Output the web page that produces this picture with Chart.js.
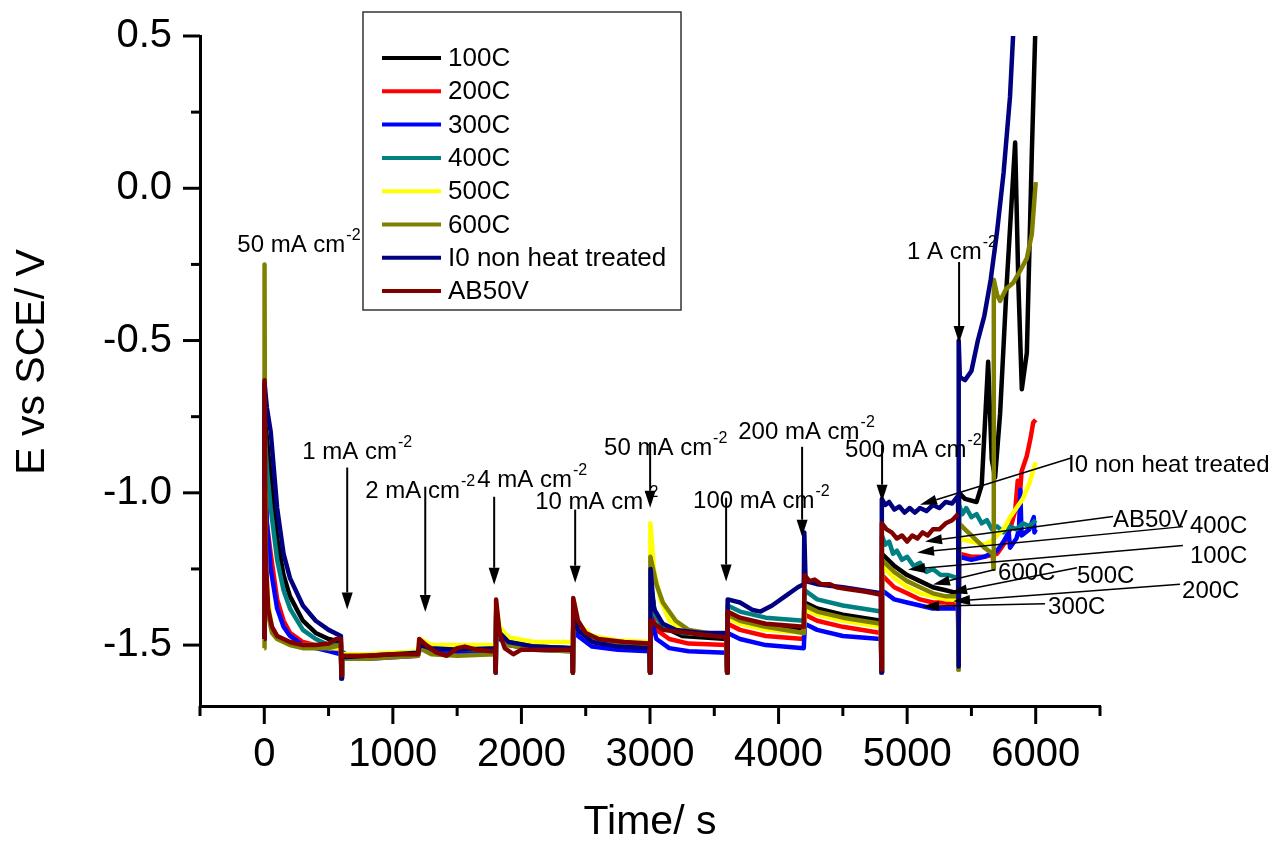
<!DOCTYPE html>
<html><head><meta charset="utf-8">
<script src="https://cdn.jsdelivr.net/npm/chart.js@4.4.0/dist/chart.umd.min.js"></script>
<style>html,body{margin:0;padding:0;background:#fff;overflow:hidden}canvas{display:block}</style>
</head><body>
<canvas id="c" width="1270" height="843"></canvas>
<script>
// ---------- DATA ----------
const seriesLabels = ['100C','200C','300C','400C','500C','600C','I0 non heat treated','AB50V'];
const seriesColors = ['#000000','#FF0000','#0000FF','#008080','#FFFF00','#808000','#000080','#800000'];

const d100C = [[0,-1.48],[2,-0.75],[20,-0.82],[50,-0.95],[100,-1.15],[150,-1.27],[200,-1.34],[300,-1.42],[400,-1.46],[500,-1.48],[596,-1.49],
 [600,-1.6],[604,-1.535],[700,-1.535],[900,-1.535],[1100,-1.53],[1196,-1.525],
 [1210,-1.495],[1300,-1.51],[1500,-1.515],[1796,-1.515],
 [1800,-1.59],[1804,-1.38],[1830,-1.46],[1900,-1.49],[2100,-1.505],[2396,-1.51],
 [2400,-1.59],[2404,-1.37],[2440,-1.44],[2550,-1.48],[2750,-1.5],[2996,-1.505],
 [3000,-1.59],[3004,-1.30],[3040,-1.40],[3100,-1.44],[3250,-1.47],[3596,-1.48],
 [3600,-1.59],[3604,-1.40],[3700,-1.42],[3900,-1.44],[4196,-1.45],
 [4204,-1.36],[4300,-1.38],[4500,-1.40],[4796,-1.42],
 [4800,-1.59],[4804,-1.20],[4900,-1.24],[5000,-1.27],[5100,-1.29],[5200,-1.31],[5300,-1.32],[5396,-1.33],
 [5400,-1.58],[5404,-1.0],[5450,-1.02],[5540,-1.03],[5580,-0.975],[5630,-0.57],[5658,-0.89],[5684,-0.95],[5723,-0.74],[5775,-0.31],[5840,0.15],[5865,-0.31],[5892,-0.66],[5931,-0.54],[5970,0.12],[5995,0.49],[6005,0.6]];

const d200C = [[0,-1.48],[2,-0.9],[20,-1.1],[50,-1.2],[100,-1.35],[150,-1.42],[200,-1.46],[300,-1.49],[400,-1.5],[500,-1.51],[596,-1.51],
 [600,-1.6],[604,-1.54],[800,-1.54],[1000,-1.535],[1196,-1.53],
 [1210,-1.5],[1300,-1.515],[1500,-1.52],[1796,-1.52],
 [1800,-1.59],[1804,-1.39],[1830,-1.47],[1900,-1.495],[2100,-1.51],[2396,-1.515],
 [2400,-1.59],[2404,-1.38],[2440,-1.45],[2550,-1.49],[2750,-1.505],[2996,-1.51],
 [3000,-1.59],[3004,-1.38],[3050,-1.45],[3150,-1.48],[3300,-1.495],[3596,-1.50],
 [3600,-1.59],[3604,-1.43],[3700,-1.45],[3900,-1.47],[4196,-1.48],
 [4204,-1.40],[4300,-1.42],[4500,-1.44],[4796,-1.46],
 [4800,-1.59],[4804,-1.27],[4900,-1.31],[5000,-1.33],[5100,-1.35],[5200,-1.36],[5300,-1.36],[5396,-1.37],
 [5400,-1.58],[5404,-1.20],[5500,-1.21],[5600,-1.21],[5700,-1.20],[5750,-1.17],[5800,-1.12],[5840,-1.06],[5860,-0.96],[5875,-1.02],[5890,-0.93],[5930,-0.88],[5960,-0.82],[5980,-0.77],[6000,-0.76]];

const d300C = [[0,-1.48],[2,-0.85],[20,-1.1],[50,-1.25],[100,-1.38],[150,-1.44],[200,-1.47],[300,-1.5],[400,-1.51],[500,-1.52],[596,-1.53],
 [600,-1.61],[604,-1.54],[800,-1.545],[1000,-1.54],[1196,-1.535],
 [1210,-1.51],[1300,-1.52],[1500,-1.525],[1796,-1.525],
 [1800,-1.59],[1804,-1.40],[1830,-1.48],[1900,-1.50],[2100,-1.515],[2396,-1.52],
 [2400,-1.59],[2404,-1.40],[2440,-1.47],[2550,-1.505],[2750,-1.515],[2996,-1.52],
 [3000,-1.59],[3004,-1.40],[3050,-1.48],[3150,-1.51],[3300,-1.52],[3596,-1.525],
 [3600,-1.59],[3604,-1.46],[3700,-1.48],[3900,-1.50],[4196,-1.51],
 [4204,-1.43],[4300,-1.45],[4500,-1.47],[4796,-1.48],
 [4800,-1.59],[4804,-1.32],[4900,-1.35],[5000,-1.36],[5100,-1.37],[5200,-1.38],[5300,-1.38],[5396,-1.38],
 [5400,-1.58],[5404,-1.21],[5500,-1.22],[5600,-1.21],[5700,-1.19],[5750,-1.16],[5790,-1.13],[5800,-1.18],[5850,-1.15],[5870,-1.12],[5880,-0.99],[5890,-1.14],[5950,-1.12],[5985,-1.08],[5990,-1.13],[6000,-1.12]];

const d400C = [[0,-1.48],[2,-0.8],[20,-0.92],[50,-1.05],[100,-1.22],[150,-1.32],[200,-1.38],[300,-1.45],[400,-1.48],[500,-1.5],[596,-1.5],
 [600,-1.6],[604,-1.535],[620,-1.525],[640,-1.535],[800,-1.535],[1000,-1.53],[1196,-1.53],
 [1210,-1.5],[1300,-1.51],[1500,-1.515],[1796,-1.515],
 [1800,-1.59],[1804,-1.39],[1830,-1.46],[1900,-1.49],[2100,-1.505],[2396,-1.51],
 [2400,-1.59],[2404,-1.37],[2440,-1.44],[2550,-1.48],[2750,-1.495],[2996,-1.50],
 [3000,-1.59],[3004,-1.30],[3040,-1.40],[3100,-1.44],[3250,-1.46],[3596,-1.47],
 [3600,-1.59],[3604,-1.37],[3700,-1.39],[3900,-1.41],[4196,-1.42],
 [4204,-1.32],[4300,-1.35],[4500,-1.37],[4796,-1.39],
 [4800,-1.59],[4804,-1.14],[4830,-1.17],[4860,-1.16],[4890,-1.20],[4920,-1.19],[4960,-1.22],[5000,-1.21],[5050,-1.24],[5100,-1.23],[5150,-1.26],[5200,-1.25],[5260,-1.27],[5320,-1.27],[5396,-1.28],
 [5400,-1.58],[5404,-1.04],[5430,-1.07],[5460,-1.05],[5500,-1.08],[5540,-1.07],[5580,-1.10],[5620,-1.09],[5660,-1.12],[5700,-1.11],[5750,-1.13],[5800,-1.11],[5850,-1.12],[5900,-1.10],[5950,-1.11],[6000,-1.09]];

const d500C = [[0,-1.48],[2,-1.0],[15,-1.25],[30,-1.35],[60,-1.45],[100,-1.48],[200,-1.5],[300,-1.5],[400,-1.5],[500,-1.51],[596,-1.51],
 [600,-1.6],[604,-1.53],[800,-1.53],[1000,-1.525],[1196,-1.52],
 [1210,-1.48],[1300,-1.5],[1500,-1.5],[1796,-1.5],
 [1800,-1.59],[1804,-1.37],[1830,-1.44],[1900,-1.475],[2100,-1.49],[2396,-1.49],
 [2400,-1.59],[2404,-1.36],[2440,-1.43],[2550,-1.47],[2750,-1.485],[2996,-1.49],
 [3000,-1.59],[3003,-1.10],[3030,-1.25],[3080,-1.35],[3150,-1.42],[3300,-1.46],[3596,-1.47],
 [3600,-1.59],[3604,-1.41],[3700,-1.43],[3900,-1.45],[4196,-1.46],
 [4204,-1.38],[4300,-1.40],[4500,-1.42],[4796,-1.44],
 [4800,-1.59],[4804,-1.24],[4900,-1.28],[5000,-1.31],[5100,-1.33],[5200,-1.34],[5300,-1.35],[5396,-1.35],
 [5400,-1.58],[5404,-1.15],[5500,-1.16],[5600,-1.17],[5650,-1.16],[5700,-1.14],[5750,-1.12],[5800,-1.08],[5850,-1.05],[5900,-1.02],[5950,-0.97],[6000,-0.90]];

const d600C = [[0,-1.51],[2,-0.25],[6,-1.0],[12,-1.25],[30,-1.4],[60,-1.46],[100,-1.48],[200,-1.5],[300,-1.51],[400,-1.51],[500,-1.51],[596,-1.5],
 [600,-1.61],[604,-1.545],[800,-1.545],[1000,-1.54],[1196,-1.535],
 [1210,-1.51],[1300,-1.53],[1500,-1.535],[1796,-1.53],
 [1800,-1.59],[1804,-1.40],[1830,-1.47],[1900,-1.50],[2100,-1.515],[2396,-1.52],
 [2400,-1.59],[2404,-1.38],[2440,-1.45],[2550,-1.49],[2750,-1.50],[2996,-1.505],
 [3000,-1.59],[3003,-1.21],[3050,-1.30],[3100,-1.36],[3200,-1.42],[3300,-1.45],[3450,-1.46],[3596,-1.47],
 [3600,-1.59],[3604,-1.40],[3700,-1.42],[3900,-1.44],[4196,-1.46],
 [4204,-1.37],[4300,-1.39],[4500,-1.41],[4796,-1.43],
 [4800,-1.59],[4804,-1.22],[4900,-1.26],[5000,-1.29],[5100,-1.31],[5200,-1.33],[5300,-1.34],[5396,-1.34],
 [5400,-1.58],[5404,-1.10],[5450,-1.12],[5500,-1.14],[5550,-1.16],[5600,-1.18],[5665,-1.20],[5672,-1.25],[5674,-0.30],[5700,-0.35],[5723,-0.37],[5770,-0.33],[5826,-0.31],[5880,-0.27],[5931,-0.23],[5970,-0.15],[6000,0.02]];

const dI0 = [[0,-1.48],[2,-0.64],[20,-0.72],[50,-0.80],[100,-1.05],[150,-1.2],[200,-1.28],[300,-1.37],[400,-1.42],[500,-1.45],[596,-1.47],
 [600,-1.61],[604,-1.54],[800,-1.535],[1000,-1.53],[1196,-1.525],
 [1210,-1.5],[1300,-1.51],[1500,-1.515],[1796,-1.51],
 [1800,-1.59],[1804,-1.39],[1830,-1.46],[1900,-1.49],[2100,-1.505],[2396,-1.51],
 [2400,-1.59],[2404,-1.38],[2440,-1.45],[2550,-1.49],[2750,-1.505],[2996,-1.51],
 [3000,-1.59],[3004,-1.25],[3030,-1.38],[3100,-1.43],[3200,-1.45],[3400,-1.46],[3596,-1.46],
 [3600,-1.59],[3604,-1.35],[3700,-1.36],[3800,-1.385],[3860,-1.39],[3950,-1.37],[4050,-1.34],[4150,-1.31],[4196,-1.30],
 [4200,-1.13],[4210,-1.29],[4300,-1.30],[4500,-1.31],[4650,-1.32],[4796,-1.33],
 [4800,-1.59],[4803,-1.02],[4830,-1.04],[4860,-1.03],[4900,-1.055],[4940,-1.045],[4980,-1.065],[5020,-1.05],[5060,-1.065],[5100,-1.05],[5150,-1.06],[5200,-1.04],[5250,-1.05],[5300,-1.03],[5350,-1.035],[5396,-1.01],
 [5400,-1.57],[5402,-0.50],[5410,-0.62],[5450,-0.63],[5500,-0.60],[5550,-0.50],[5600,-0.42],[5650,-0.30],[5700,-0.14],[5750,0.05],[5800,0.3],[5830,0.55]];

const dAB50V = [[0,-1.48],[2,-0.63],[10,-1.2],[30,-1.38],[60,-1.44],[100,-1.47],[200,-1.49],[300,-1.5],[400,-1.5],[500,-1.495],[560,-1.48],[596,-1.48],
 [600,-1.6],[604,-1.535],[800,-1.535],[1000,-1.53],[1196,-1.53],
 [1205,-1.48],[1260,-1.50],[1340,-1.525],[1420,-1.535],[1500,-1.51],[1560,-1.505],[1650,-1.515],[1760,-1.52],[1796,-1.52],
 [1800,-1.59],[1803,-1.35],[1830,-1.46],[1870,-1.51],[1937,-1.53],[2000,-1.515],[2200,-1.515],[2396,-1.515],
 [2400,-1.59],[2403,-1.345],[2440,-1.42],[2500,-1.46],[2600,-1.48],[2800,-1.49],[2996,-1.495],
 [3000,-1.59],[3003,-1.42],[3100,-1.45],[3300,-1.46],[3596,-1.475],
 [3600,-1.59],[3603,-1.39],[3700,-1.41],[3900,-1.43],[4196,-1.44],
 [4203,-1.27],[4240,-1.29],[4280,-1.285],[4330,-1.30],[4400,-1.30],[4450,-1.31],[4520,-1.315],[4600,-1.32],[4680,-1.325],[4740,-1.33],[4796,-1.335],
 [4800,-1.58],[4803,-1.10],[4840,-1.12],[4880,-1.13],[4920,-1.15],[4960,-1.14],[5000,-1.16],[5040,-1.14],[5080,-1.15],[5120,-1.13],[5160,-1.14],[5200,-1.12],[5250,-1.12],[5300,-1.10],[5350,-1.09],[5396,-1.07]];

const seriesData = [d100C, d200C, d300C, d400C, d500C, d600C, dI0, dAB50V];

const xMajorTicks = [0,1000,2000,3000,4000,5000,6000];
const xMinorTicks = [-500,500,1500,2500,3500,4500,5500,6500];
const yMajorTicks = [-1.5,-1.0,-0.5,0.0,0.5];
const yMinorTicks = [-1.25,-0.75,-0.25,0.25];

// annotations: text anchor (time, potential) and arrow (from -> tip) in data units
const annotations = [
 {text:'50 mA cm', sup:'-2', t:-210, e:-0.209},
 {text:'1 mA cm', sup:'-2', t:295, e:-0.888, arrow:[645,-0.917,645,-1.383], v:true},
 {text:'2 mA cm', sup:'-2', t:785, e:-1.016, arrow:[1252,-0.980,1252,-1.391], v:true},
 {text:'4 mA cm', sup:'-2', t:1656, e:-0.980, arrow:[1788,-1.013,1788,-1.302], v:true},
 {text:'10 mA cm', sup:'-2', t:2107, e:-1.052, arrow:[2418,-1.055,2418,-1.295], v:true},
 {text:'50 mA cm', sup:'-2', t:2643, e:-0.875, arrow:[3001,-0.835,3001,-1.049], v:true},
 {text:'100 mA cm', sup:'-2', t:3335, e:-1.049, arrow:[3592,-1.016,3592,-1.291], v:true},
 {text:'200 mA cm', sup:'-2', t:3686, e:-0.822, arrow:[4183,-0.849,4183,-1.144], v:true},
 {text:'500 mA cm', sup:'-2', t:4517, e:-0.882, arrow:[4805,-0.842,4805,-1.029], v:true},
 {text:'1 A cm', sup:'-2', t:4999, e:-0.232, arrow:[5404,-0.242,5404,-0.508], v:true},
 {text:'I0 non heat treated', t:6251, e:-0.931, arrow:[6282,-0.885,5100,-1.039]},
 {text:'AB50V', t:6601, e:-1.111, arrow:[6601,-1.078,5139,-1.160]},
 {text:'400C', t:7200, e:-1.131, arrow:[7145,-1.111,5077,-1.196]},
 {text:'100C', t:7200, e:-1.229, arrow:[7145,-1.173,5007,-1.252]},
 {text:'600C', t:5707, e:-1.285, arrow:[5684,-1.252,5201,-1.301]},
 {text:'500C', t:6321, e:-1.295, arrow:[6321,-1.246,5334,-1.328]},
 {text:'200C', t:7138, e:-1.344, arrow:[7122,-1.300,5357,-1.356]},
 {text:'300C', t:6096, e:-1.399, arrow:[6072,-1.364,5116,-1.373]}
];

// ---------- DRAWING ----------
const FONT = '"Liberation Sans", Arial, Helvetica, sans-serif';

function drawArrow(ctx, x1, y1, x2, y2, head, halfW, lw) {
  const ang = Math.atan2(y2 - y1, x2 - x1);
  const bx = x2 - head * Math.cos(ang), by = y2 - head * Math.sin(ang);
  ctx.lineWidth = lw;
  ctx.beginPath(); ctx.moveTo(x1, y1); ctx.lineTo(bx, by); ctx.stroke();
  ctx.beginPath(); ctx.moveTo(x2, y2);
  ctx.lineTo(bx + halfW * Math.sin(ang), by - halfW * Math.cos(ang));
  ctx.lineTo(bx - halfW * Math.sin(ang), by + halfW * Math.cos(ang));
  ctx.closePath(); ctx.fill();
}

const extras = {
  id: 'extras',
  afterDatasetsDraw(chart) {
    const {ctx, scales: {x, y}, chartArea: ca} = chart;
    ctx.save();
    ctx.strokeStyle = '#000'; ctx.fillStyle = '#000'; ctx.lineCap = 'butt';
    // tick marks
    ctx.lineWidth = 3;
    const xs = (arr, len) => arr.forEach(v => { const p = x.getPixelForValue(v); ctx.beginPath(); ctx.moveTo(p, ca.bottom); ctx.lineTo(p, ca.bottom + len); ctx.stroke(); });
    const ys = (arr, len) => arr.forEach(v => { const p = y.getPixelForValue(v); ctx.beginPath(); ctx.moveTo(ca.left, p); ctx.lineTo(ca.left - len, p); ctx.stroke(); });
    xs(xMajorTicks, 18); xs(xMinorTicks, 10); ys(yMajorTicks, 17); ys(yMinorTicks, 9);

    // y title
    ctx.save();
    ctx.translate(33, 362); ctx.rotate(-Math.PI / 2);
    ctx.font = '41px ' + FONT; ctx.textAlign = 'center'; ctx.textBaseline = 'middle';
    ctx.fillText('E vs SCE/ V', 0, 0);
    ctx.restore();

    // annotations
    ctx.textAlign = 'left'; ctx.textBaseline = 'alphabetic';
    for (const a of annotations) {
      const px = x.getPixelForValue(a.t), py = y.getPixelForValue(a.e);
      ctx.font = '24px ' + FONT;
      ctx.fillText(a.text, px, py);
      if (a.sup) {
        const w = ctx.measureText(a.text).width;
        ctx.font = '16px ' + FONT;
        ctx.fillText(a.sup, px + w + 1, py - 12);
      }
      if (a.arrow) {
        const [t1, e1, t2, e2] = a.arrow;
        drawArrow(ctx, x.getPixelForValue(t1), y.getPixelForValue(e1), x.getPixelForValue(t2), y.getPixelForValue(e2),
          17, a.v ? 5.5 : 5, a.v ? 2 : 1.5);
      }
    }

    // legend box
    const lx = 363, ly = 12, lw = 318, lh = 298;
    ctx.fillStyle = '#fff'; ctx.fillRect(lx, ly, lw, lh);
    ctx.strokeStyle = '#333'; ctx.lineWidth = 1.5; ctx.strokeRect(lx, ly, lw, lh);
    ctx.font = '26px ' + FONT; ctx.textBaseline = 'middle';
    chart.data.datasets.forEach((ds, i) => {
      const ry = 58 + i * 33.3;
      ctx.strokeStyle = ds.borderColor; ctx.lineWidth = 4;
      ctx.beginPath(); ctx.moveTo(382, ry); ctx.lineTo(441, ry); ctx.stroke();
      ctx.fillStyle = '#000'; ctx.fillText(ds.label, 448, ry + 1);
    });
    ctx.restore();
  }
};

const datasets = seriesData.map((arr, i) => ({
  label: seriesLabels[i],
  data: arr.map(p => ({x: p[0], y: p[1]})),
  borderColor: seriesColors[i],
  backgroundColor: seriesColors[i],
  borderWidth: 4.5,
  showLine: true,
  pointRadius: 0,
  tension: 0,
  borderJoinStyle: 'round',
  order: seriesData.length - 1 - i
}));

new Chart(document.getElementById('c'), {
  type: 'scatter',
  data: {datasets},
  options: {
    responsive: false, animation: false, devicePixelRatio: 1,
    layout: {padding: {left: 0, right: 170, top: 36, bottom: 0}},
    plugins: {legend: {display: false}, tooltip: {enabled: false}},
    scales: {
      x: {
        type: 'linear', min: -500, max: 6500,
        afterBuildTicks: s => { s.ticks = xMinorTicks.concat(xMajorTicks).sort((a, b) => a - b).map(v => ({value: v})); },
        ticks: {callback: v => xMajorTicks.includes(v) ? String(v) : '', color: '#000', font: {size: 40, family: FONT, lineHeight: 1.2}, padding: 25, maxRotation: 0, autoSkip: false},
        grid: {display: false, drawTicks: false},
        border: {display: true, color: '#000', width: 3},
        title: {display: true, text: 'Time/ s', color: '#000', font: {size: 41, family: FONT, lineHeight: 1}, padding: {top: 0, bottom: 0}},
        afterFit: s => { s.height = 137; s.paddingLeft = 0; s.paddingRight = 0; }
      },
      y: {
        type: 'linear', min: -1.7, max: 0.5,
        afterBuildTicks: s => { s.ticks = yMinorTicks.concat(yMajorTicks).sort((a, b) => a - b).map(v => ({value: v})); },
        ticks: {callback: v => yMajorTicks.some(m => Math.abs(m - v) < 1e-9) ? v.toFixed(1) : '', color: '#000', font: {size: 40, family: FONT}, padding: 28, autoSkip: false},
        grid: {display: false, drawTicks: false},
        border: {display: true, color: '#000', width: 3},
        afterFit: s => { s.width = 200; s.paddingTop = 0; s.paddingBottom = 0; }
      }
    }
  },
  plugins: [extras]
});
</script>
</body></html>
